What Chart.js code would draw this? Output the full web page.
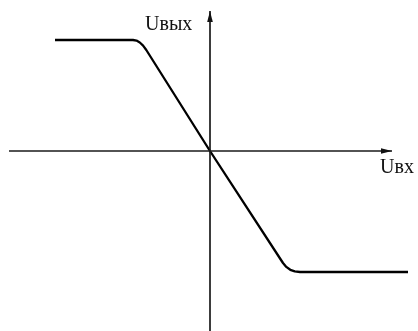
<!DOCTYPE html>
<html>
<head>
<meta charset="utf-8">
<script src="https://cdn.jsdelivr.net/npm/chart.js@4.4.1/dist/chart.umd.min.js"></script>
<style>
  html, body { margin: 0; padding: 0; background: #fff; }
  #wrap { width: 418px; height: 331px; }
</style>
</head>
<body>
<div id="wrap"><canvas id="transferChart"></canvas></div>
<script>
// transfer characteristic Uвых(Uвх) (arbitrary units)
const curveX = [-15.5, -7.7, -7.35, -7.02, -6.69, -6.37, 0, 7.3, 7.63, 8.03, 8.48, 9.0, 19.8];
const curveY = [11.1, 11.1, 11.04, 10.85, 10.54, 10.1, 0, -11.2, -11.59, -11.88, -12.04, -12.1, -12.1];

// axis extents
const xAxisRange = [-20.1, 18.2];
const yAxisRange = [-18, 14];
const xLabel = 'Uвх';
const yLabel = 'Uвых';

const toPoints = (xs, ys) => xs.map((x, i) => ({ x: x, y: ys[i] }));

const arrowsAndLabels = {
  id: 'arrowsAndLabels',
  afterDatasetsDraw(chart) {
    const c = chart.ctx;
    const sx = chart.scales.x;
    const sy = chart.scales.y;
    const xTip = { x: sx.getPixelForValue(xAxisRange[1]), y: sy.getPixelForValue(0) };
    const yTip = { x: sx.getPixelForValue(0), y: sy.getPixelForValue(yAxisRange[1]) };

    c.save();
    c.fillStyle = '#111';
    // x arrow
    c.beginPath();
    c.moveTo(xTip.x, xTip.y);
    c.lineTo(xTip.x - 11, xTip.y - 2.8);
    c.lineTo(xTip.x - 11, xTip.y + 2.8);
    c.closePath();
    c.fill();
    // y arrow
    c.beginPath();
    c.moveTo(yTip.x, yTip.y);
    c.lineTo(yTip.x - 2.8, yTip.y + 11);
    c.lineTo(yTip.x + 2.8, yTip.y + 11);
    c.closePath();
    c.fill();

    c.font = '20px "Liberation Serif", "DejaVu Serif", serif';
    c.textAlign = 'left';
    c.textBaseline = 'alphabetic';
    c.fillText(yLabel, yTip.x - 65, yTip.y + 19);
    c.fillText(xLabel, xTip.x - 12, xTip.y + 22);
    c.restore();
  }
};

const ctx = document.getElementById('transferChart').getContext('2d');
new Chart(ctx, {
  type: 'scatter',
  data: {
    datasets: [
      {
        label: 'x axis',
        data: toPoints(xAxisRange, [0, 0]),
        showLine: true,
        borderColor: '#1a1a1a',
        borderWidth: 1.7,
        pointRadius: 0
      },
      {
        label: 'y axis',
        data: toPoints([0, 0], yAxisRange),
        showLine: true,
        borderColor: '#1a1a1a',
        borderWidth: 1.7,
        pointRadius: 0
      },
      {
        label: 'Uвых',
        data: toPoints(curveX, curveY),
        showLine: true,
        borderColor: '#000',
        borderWidth: 2.3,
        borderJoinStyle: 'round',
        borderCapStyle: 'butt',
        pointRadius: 0
      }
    ]
  },
  options: {
    responsive: true,
    maintainAspectRatio: false,
    animation: false,
    layout: { padding: 0 },
    plugins: {
      legend: { display: false },
      tooltip: { enabled: false }
    },
    scales: {
      x: { type: 'linear', display: false, min: -21, max: 20.8 },
      y: { type: 'linear', display: false, min: -18, max: 15.1 }
    }
  },
  plugins: [arrowsAndLabels]
});
</script>
</body>
</html>
